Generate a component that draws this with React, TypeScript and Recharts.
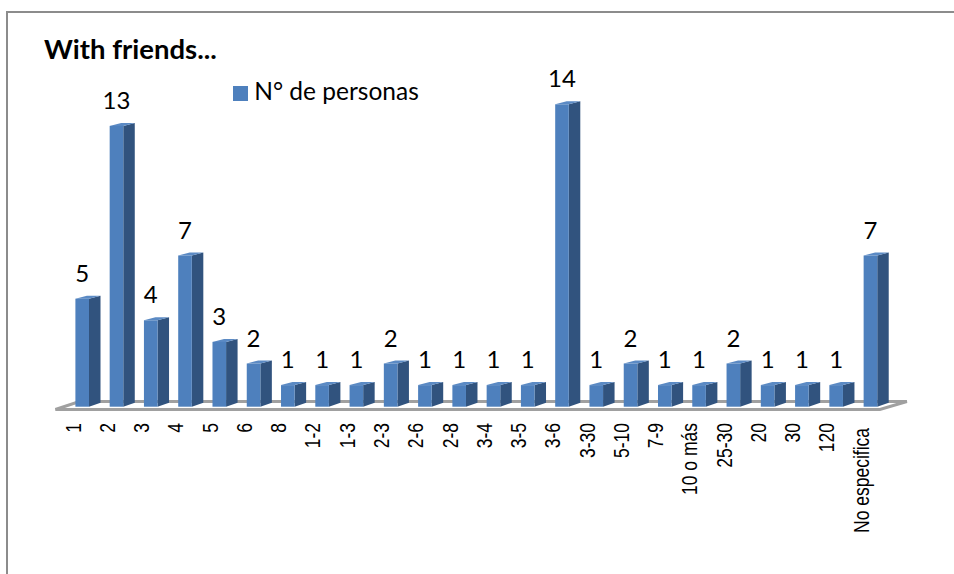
import { BarChart, Bar, XAxis, YAxis, Legend, LabelList, ReferenceLine } from "recharts";

const categories = ["1", "2", "3", "4", "5", "6", "8", "1-2", "1-3", "2-3", "2-6", "2-8", "3-4", "3-5", "3-6", "3-30", "5-10", "7-9", "10 o más", "25-30", "20", "30", "120", "No especifica"];
const personas = [5, 13, 4, 7, 3, 2, 1, 1, 1, 2, 1, 1, 1, 1, 14, 1, 2, 1, 1, 2, 1, 1, 1, 7];

const data = categories.map((name, i) => ({ name, personas: personas[i] }));

const DEPTH_X = 11.5;
const DEPTH_Y = 4;

// front + side + top faces, sizes come from the bar scale
function Bar3D({ x, y, width, height }: any) {
  const r = x + width;
  const b = y + height;
  return (
    <g>
      <polygon points={`${r},${y} ${r + DEPTH_X},${y - DEPTH_Y + 1} ${r + DEPTH_X},${b - DEPTH_Y} ${r},${b}`} fill="#31537e" />
      <polygon points={`${x},${y} ${x + DEPTH_X},${y - DEPTH_Y + 1} ${r + DEPTH_X},${y - DEPTH_Y + 1} ${r},${y}`} fill="#5b8ac4" />
      <rect x={x} y={y} width={width} height={height} fill="#4e80bd" />
    </g>
  );
}

function Floor({ x1, y1, x2 }: any) {
  return <polygon points={`${x1 - 10},${y1 + 2.8} ${x2 - 8},${y1 + 2.8} ${x2 + 19},${y1 - 5.2} ${x1 + 14},${y1 - 5.2}`} fill="#fff" stroke="#a0a0a0" strokeWidth={3} />;
}

function RotatedTick({ x, payload }: any) {
  const extra = payload.value === "No especifica" ? 5 : 0;
  return (
    <text transform={`translate(${x - 2},${423 + extra}) rotate(-90) scale(1,1.3)`} textAnchor="end" fontFamily="'Liberation Sans', Arial, sans-serif" fontSize={17.5} fill="#000">
      {payload.value}
    </text>
  );
}

export default function App() {
  return (
    <div style={{ position: "absolute", left: 0, top: 0, width: 954, height: 574, background: "#fff", overflow: "hidden" }}>
      <div style={{ position: "absolute", left: 6, top: 11, right: 0, bottom: 0, borderLeft: "2px solid #8c8c8c", borderTop: "2px solid #8c8c8c" }} />
      <div style={{ position: "absolute", left: 44, top: 32, fontFamily: "Lato, sans-serif", fontWeight: 700, fontSize: 27.5, color: "#000", lineHeight: "34px" }}>With friends...</div>
      <BarChart width={954} height={574} data={data} margin={{ top: 104.3, right: 66.1, bottom: 57.3, left: 65.4 }} barCategoryGap={0} style={{ position: "absolute", left: 0, top: 0 }}>
        <XAxis dataKey="name" interval={0} height={110} axisLine={false} tickLine={false} tick={<RotatedTick />} />
        <YAxis domain={[0, 14]} hide />
        <ReferenceLine y={0} shape={<Floor />} zIndex={50} />
        <Legend
          verticalAlign="middle"
          align="center"
          iconType="square"
          iconSize={15}
          wrapperStyle={{ position: "absolute", left: 221, top: 76, width: 220, fontFamily: "Lato, sans-serif", fontSize: 24.5, textAlign: "left" }}
          formatter={(v) => <span style={{ color: "#000", marginLeft: 2 }}>{v}</span>}
        />
        <Bar dataKey="personas" name="N° de personas" fill="#4e80bd" barSize={13.6} shape={<Bar3D />} isAnimationActive={false}>
          <LabelList dataKey="personas" position="top" offset={17} fontFamily="Lato, sans-serif" fontSize={24} fill="#000" />
        </Bar>
      </BarChart>
    </div>
  );
}
